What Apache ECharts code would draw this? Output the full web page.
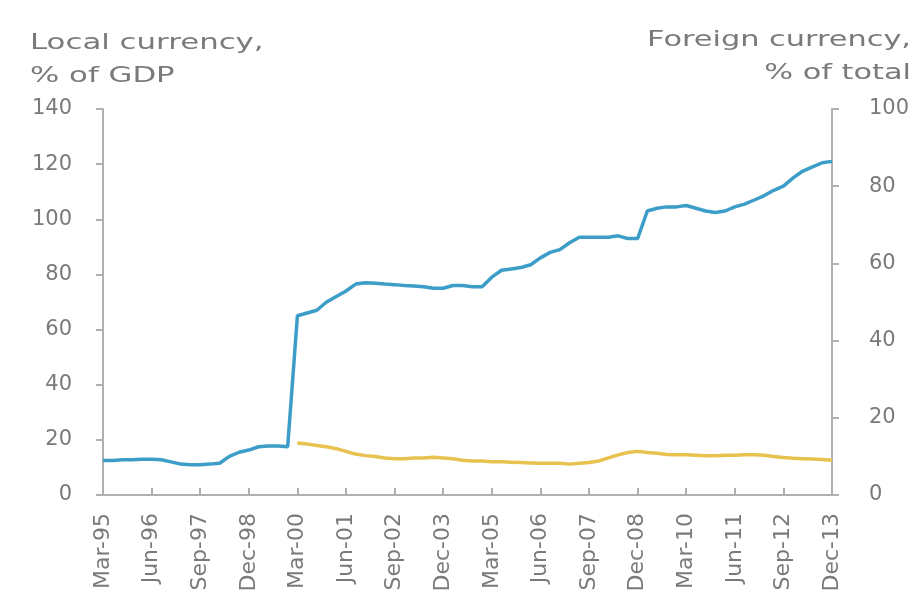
<!DOCTYPE html>
<html>
<head>
<meta charset="utf-8">
<script src="https://cdn.jsdelivr.net/npm/echarts@6/dist/echarts.min.js"></script>
<style>
html,body{margin:0;padding:0;background:#fff;}
#chart{width:922px;height:606px;}
</style>
</head>
<body>
<div id="chart"></div>
<script>
// Quarterly categories Mar-95 .. Dec-13
const quarters = ['Mar','Jun','Sep','Dec'];
const years = ['95','96','97','98','99','00','01','02','03','04','05','06','07','08','09','10','11','12','13'];
const categories = [];
years.forEach(y => quarters.forEach(q => categories.push(q + '-' + y)));

// Local currency, % of GDP (left axis)
const localCurrency = [
  12.5,12.5,12.8,12.8,13.0,13.0,12.8,12.0,11.2,11.0,
  11.0,11.2,11.5,14.0,15.5,16.3,17.5,17.8,17.8,17.5,
  65.0,66.0,67.0,70.0,72.0,74.0,76.5,77.0,76.8,76.5,
  76.3,76.0,75.8,75.5,75.0,75.0,76.0,76.0,75.5,75.5,
  79.0,81.5,82.0,82.5,83.5,86.0,88.0,89.0,91.5,93.5,
  93.5,93.5,93.5,94.0,93.0,93.0,103.0,104.0,104.5,104.5,
  105.0,104.0,103.0,102.5,103.0,104.5,105.5,107.0,108.5,110.5,
  112.0,115.0,117.5,119.0,120.5,121.0
];

// Foreign currency, % of total (right axis)
const foreignCurrency = [
  null,null,null,null,null,null,null,null,null,null,
  null,null,null,null,null,null,null,null,null,null,
  13.5,13.2,12.8,12.5,12.0,11.3,10.6,10.2,10.0,9.6,
  9.4,9.4,9.6,9.6,9.8,9.6,9.4,9.0,8.8,8.8,
  8.6,8.6,8.5,8.4,8.3,8.2,8.2,8.2,8.0,8.2,
  8.4,8.8,9.6,10.4,11.0,11.3,11.0,10.8,10.5,10.4,
  10.4,10.3,10.2,10.2,10.3,10.3,10.4,10.4,10.3,10.0,
  9.7,9.5,9.4,9.3,9.2,9.0
];

const leftTitle = 'Local currency,\n% of GDP';
const rightTitle = 'Foreign currency,\n% of total';

const font = 'DejaVu Sans';
const textColor = '#7a7a7a';
const axisColor = '#b0b0b0';

const chart = echarts.init(document.getElementById('chart'), null, {renderer:'canvas'});
chart.setOption({
  animation: false,
  backgroundColor: '#fff',
  grid: {left: 103, right: 90, top: 109, bottom: 111},
  graphic: [
    {type:'text', x: 30, y: 27, scaleX: 1.4, style:{text: leftTitle, font: '22px "DejaVu Sans"', fill: textColor, lineHeight: 33, align:'left', verticalAlign:'top'}},
    {type:'text', x: 911, y: 24, scaleX: 1.38, style:{text: rightTitle, font: '22px "DejaVu Sans"', fill: textColor, lineHeight: 33, align:'right', verticalAlign:'top'}}
  ],
  xAxis: {
    type: 'category',
    data: categories,
    boundaryGap: false,
    axisLine: {lineStyle: {color: axisColor, width: 2}},
    axisTick: {inside: true, length: 7, interval: 4, lineStyle: {color: axisColor, width: 2}},
    axisLabel: {interval: 4, rotate: 90, margin: 18, fontFamily: font, fontSize: 22, color: textColor}
  },
  yAxis: [
    {
      type: 'value', min: 0, max: 140, interval: 20, position: 'left',
      axisLine: {show: true, lineStyle: {color: axisColor, width: 2}},
      axisTick: {show: true, length: 7, lineStyle: {color: axisColor, width: 2}},
      splitLine: {show: false},
      axisLabel: {margin: 31, fontFamily: font, fontSize: 21, color: textColor}
    },
    {
      type: 'value', min: 0, max: 100, interval: 20, position: 'right',
      axisLine: {show: true, lineStyle: {color: axisColor, width: 2}},
      axisTick: {show: true, length: 7, lineStyle: {color: axisColor, width: 2}},
      splitLine: {show: false},
      axisLabel: {margin: 37, fontFamily: font, fontSize: 21, color: textColor}
    }
  ],
  series: [
    {
      name: 'Local currency', type: 'line', yAxisIndex: 0, data: localCurrency,
      showSymbol: false, lineStyle: {color: '#3c9ec8', width: 3.5}, itemStyle:{color:'#3c9ec8'}
    },
    {
      name: 'Foreign currency', type: 'line', yAxisIndex: 1, data: foreignCurrency,
      showSymbol: false, connectNulls: false, lineStyle: {color: '#e8c24e', width: 3.5}, itemStyle:{color:'#e8c24e'}
    }
  ]
});
</script>
</body>
</html>
